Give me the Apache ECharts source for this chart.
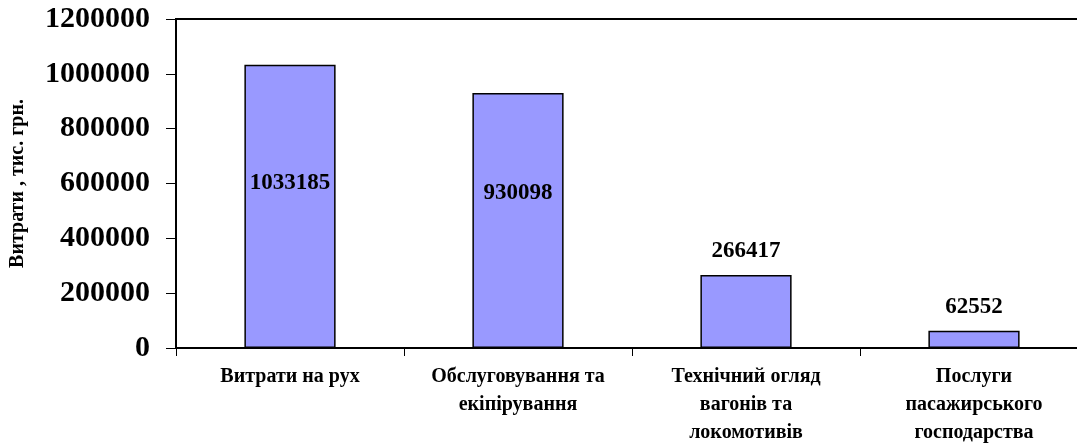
<!DOCTYPE html>
<html>
<head>
<meta charset="utf-8">
<script src="https://cdn.jsdelivr.net/npm/echarts@6/dist/echarts.min.js"></script>
<style>html,body{margin:0;padding:0;background:#fff}#c{width:1077px;height:446px}</style>
</head>
<body>
<div id="c"></div>
<script>
const categories = ['Витрати на рух', 'Обслуговування та\nекіпірування', 'Технічний огляд\nвагонів та\nлокомотивів', 'Послуги\nпасажирського\nгосподарства'];
const values = [1033185, 930098, 266417, 62552];
const yTicks = [0, 200000, 400000, 600000, 800000, 1000000, 1200000];
const yName = 'Витрати , тис. грн.';

const font = '"Liberation Serif", "Times New Roman", serif';
const labelStyles = [
  {position: 'inside', offset: [0, -23]},
  {position: 'inside', offset: [0, -27]},
  {position: 'top', distance: 12},
  {position: 'top', distance: 12}
];
const chart = echarts.init(document.getElementById('c'), null, {renderer: 'canvas'});
chart.setOption({
  animation: false,
  backgroundColor: '#fff',
  grid: {left: 176, top: 19, width: 912, height: 329, show: true, borderColor: '#000', borderWidth: 2, backgroundColor: 'transparent', containLabel: false, outerBoundsMode: 'none'},
  xAxis: {
    type: 'category',
    data: categories,
    axisLine: {lineStyle: {color: '#000', width: 2}},
    axisTick: {show: true, length: 8, lineStyle: {color: '#000', width: 1}},
    axisLabel: {color: '#000', fontFamily: font, fontWeight: 'bold', fontSize: 20, lineHeight: 28, margin: 15, interval: 0}
  },
  yAxis: {
    type: 'value',
    min: yTicks[0],
    max: yTicks[yTicks.length - 1],
    interval: yTicks[1] - yTicks[0],
    name: yName,
    nameLocation: 'middle',
    nameGap: 148,
    nameTextStyle: {color: '#000', fontFamily: font, fontWeight: 'bold', fontSize: 20},
    axisLine: {show: true, lineStyle: {color: '#000', width: 2}},
    axisTick: {show: true, length: 10, lineStyle: {color: '#000', width: 1}},
    splitLine: {show: false},
    axisLabel: {color: '#000', fontFamily: font, fontWeight: 'bold', fontSize: 30, margin: 26, formatter: v => String(v)}
  },
  series: [{
    type: 'bar',
    barWidth: '40%',
    itemStyle: {color: '#9999FF', borderColor: '#000', borderWidth: 1.5},
    label: {show: true, color: '#000', fontFamily: font, fontWeight: 'bold', fontSize: 23},
    data: values.map((v, i) => ({value: v, label: labelStyles[i]}))
  }]
});
</script>
</body>
</html>
